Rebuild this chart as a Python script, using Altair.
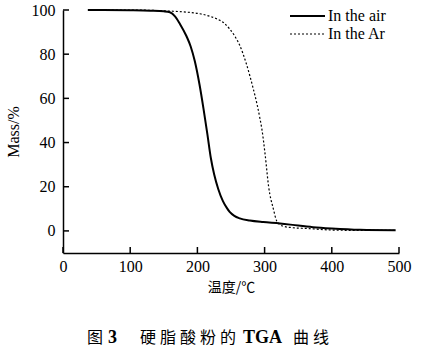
import altair as alt
import pandas as pd

# --- data ---
air_temp = [37, 60, 100, 130, 150, 159, 167, 174, 184, 190, 196, 203, 209, 215, 220, 225, 231, 238, 244, 248, 255, 263, 278, 298, 323, 350, 372, 400, 442, 495]
air_mass = [100, 100, 99.9, 99.7, 99.4, 99, 97, 93.7, 88, 83.5, 77, 66.5, 55.5, 43.5, 33, 25.5, 19, 13.5, 10.3, 8.6, 6.8, 5.7, 4.7, 4.0, 3.4, 2.4, 1.7, 1.1, 0.5, 0.3]

ar_temp = [37, 100, 159, 185, 204, 220, 229, 240, 248, 256, 263, 273, 283, 289, 293, 296, 301, 306, 313, 318, 322, 327, 340, 363, 400, 450, 495]
ar_mass = [100, 100, 99.5, 99, 98.3, 97, 96, 94, 91.4, 88, 84, 75.5, 64.5, 57, 51, 46, 34, 20, 10, 4.5, 3, 2.2, 1.5, 1.1, 0.4, 0.2, 0.2]

x_ticks = [0, 100, 200, 300, 400, 500]
y_ticks = [0, 20, 40, 60, 80, 100]

legend_labels = ["In the air", "In the Ar"]
x_title = "温度/℃"
y_title = "Mass/%"
caption_parts = [("图", 87, "normal"), ("3", 108, "bold"),
                 ("硬", 140, "normal"), ("脂", 160, "normal"), ("酸", 180, "normal"),
                 ("粉", 200, "normal"), ("的", 220, "normal"),
                 ("TGA", 243, "bold"), ("曲", 293, "normal"), ("线", 313, "normal")]

SERIF = "Liberation Serif"
CJK = "Noto Sans CJK SC"

air = pd.DataFrame({"T": air_temp, "M": air_mass})
ar = pd.DataFrame({"T": ar_temp, "M": ar_mass})

xs = alt.Scale(domain=[0, 500], nice=False)
ys = alt.Scale(domain=[-10, 100], nice=False)

xaxis = alt.Axis(values=x_ticks, ticks=False, labelPadding=5, title=x_title,
                 titleFont=CJK, titleFontSize=14, titleFontWeight="normal",
                 titlePadding=6, labelFlush=False)
yaxis = alt.Axis(values=y_ticks, ticks=False, labelPadding=8, title=y_title,
                 titleFont=SERIF, titleFontSize=16, titleFontWeight="normal",
                 titlePadding=10)

X = alt.X("T:Q", scale=xs, axis=xaxis)
Y = alt.Y("M:Q", scale=ys, axis=yaxis)

air_line = alt.Chart(air).mark_line(color="black", strokeWidth=2, interpolate="monotone").encode(x=X, y=Y)
ar_line = alt.Chart(ar).mark_line(color="black", strokeWidth=1.2, strokeDash=[2, 2],
                                  interpolate="monotone").encode(x=X, y=Y)

xt = alt.Chart(pd.DataFrame({"T": x_ticks})).mark_rule(color="black", strokeWidth=1.5).encode(
    x=X, y=alt.value(237), y2=alt.value(243))
yt = alt.Chart(pd.DataFrame({"M": y_ticks})).mark_rule(color="black", strokeWidth=1.5).encode(
    y=Y, x=alt.value(0), x2=alt.value(6))

# legend
leg_solid = alt.Chart(pd.DataFrame({"a": [0]})).mark_rule(color="black", strokeWidth=2).encode(
    x=alt.value(227), x2=alt.value(262), y=alt.value(6))
leg_dot = alt.Chart(pd.DataFrame({"a": [0]})).mark_rule(color="black", strokeWidth=1.2, strokeDash=[2, 2]).encode(
    x=alt.value(227), x2=alt.value(262), y=alt.value(24))
leg_text = alt.Chart(pd.DataFrame({"t": legend_labels, "yy": [6, 24]})).mark_text(
    align="left", baseline="middle", font=SERIF, fontSize=16, color="black").encode(
    x=alt.value(265), y=alt.Y("yy:Q", scale=None), text="t:N")

# caption
cap_layers = []
for txt, px, w in caption_parts:
    font = SERIF if w == "bold" else CJK
    size = 18 if w == "bold" else 16
    cap_layers.append(
        alt.Chart(pd.DataFrame({"t": [txt]})).mark_text(
            align="left", baseline="middle", font=font, fontSize=size, fontWeight=w, color="black"
        ).encode(x=alt.value(px - 63), y=alt.value(328), text="t:N")
    )

chart = alt.layer(air_line, ar_line, xt, yt, leg_solid, leg_dot, leg_text, *cap_layers).properties(
    width=336, height=243, autosize="none",
    padding={"left": 63, "top": 10, "right": 22, "bottom": 101},
    background="white",
).configure_view(stroke=None).configure_axis(
    grid=False, domainColor="black", domainWidth=1.5, labelFont=SERIF, labelFontSize=16,
    labelColor="black", titleColor="black",
)

chart.save("out.html", embed_options={"renderer": "svg", "actions": False})
